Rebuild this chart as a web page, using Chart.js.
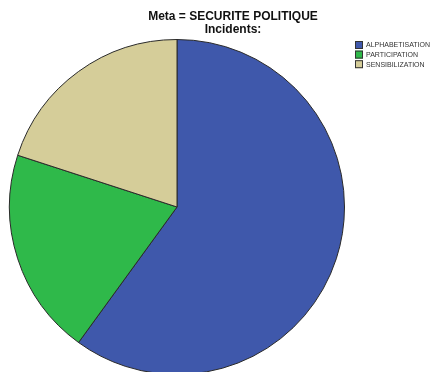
<!DOCTYPE html>
<html><head><meta charset="utf-8">
<script src="https://cdn.jsdelivr.net/npm/chart.js@4.4.1/dist/chart.umd.min.js"></script>
<style>html,body{margin:0;padding:0;background:#fff;overflow:hidden;width:433px;height:372px}canvas{display:block}</style>
</head><body>
<canvas id="c" width="433" height="380"></canvas>
<script>
const categories = ["ALPHABETISATION", "PARTICIPATION", "SENSIBILIZATION"];
const values = [60, 20, 20];
const colors = ["#3f58ab", "#2fb94a", "#d5cd99"];
const titleLines = ["Meta = SECURITE POLITIQUE", "Incidents:"];

const overlay = {
  id: 'overlay',
  afterDraw(chart) {
    const ctx = chart.ctx;
    ctx.save();
    ctx.fillStyle = '#111';
    ctx.font = 'bold 12px "Liberation Sans", Arial, sans-serif';
    ctx.textAlign = 'center';
    ctx.textBaseline = 'middle';
    ctx.fillText(titleLines[0], 233, 17);
    ctx.fillText(titleLines[1], 233, 30);
    ctx.font = '7px "Liberation Sans", Arial, sans-serif';
    ctx.textAlign = 'left';
    const labels = chart.data.labels;
    const bg = chart.data.datasets[0].backgroundColor;
    labels.forEach((l, i) => {
      const y = 41 + i * 9.6;
      ctx.fillStyle = bg[i];
      ctx.fillRect(355, y, 8, 8);
      ctx.strokeStyle = '#333';
      ctx.lineWidth = 1;
      ctx.strokeRect(355.5, y + 0.5, 7, 7);
      ctx.fillStyle = '#333';
      ctx.fillText(l, 366, y + 4.5);
    });
    ctx.restore();
  }
};

new Chart(document.getElementById('c'), {
  type: 'pie',
  data: {
    labels: categories,
    datasets: [{
      data: values,
      backgroundColor: colors,
      borderColor: '#2a2a2a',
      borderWidth: 1
    }]
  },
  options: {
    responsive: false,
    animation: false,
    layout: { padding: { left: 9, right: 88, top: 39, bottom: 5 } },
    plugins: { legend: { display: false }, title: { display: false }, tooltip: { enabled: false } }
  },
  plugins: [overlay]
});
</script>
</body></html>
